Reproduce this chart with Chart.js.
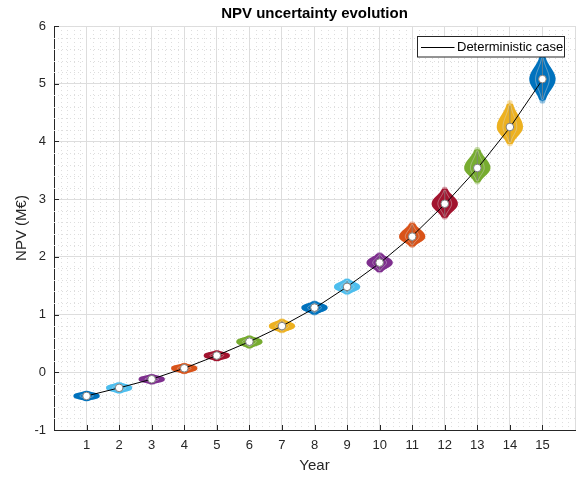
<!DOCTYPE html>
<html>
<head>
<meta charset="utf-8">
<script src="https://cdn.jsdelivr.net/npm/chart.js@4.4.1/dist/chart.umd.min.js"></script>
<style>
  html, body { margin: 0; padding: 0; background: #ffffff; }
  #wrap { width: 576px; height: 477px; }
</style>
</head>
<body>
<div id="wrap"><canvas id="npv" width="576" height="477"></canvas></div>
<script>
// Simulation years
const years = [1, 2, 3, 4, 5, 6, 7, 8, 9, 10, 11, 12, 13, 14, 15];

// Monte Carlo NPV distribution per year (M€): median and extent of the samples
const medianNpv = [-0.41, -0.27, -0.12, 0.07, 0.29, 0.53, 0.80, 1.12, 1.48, 1.90, 2.35, 2.92, 3.54, 4.25, 5.08];
const lowNpv    = [-0.47, -0.34, -0.18, 0.00, 0.22, 0.44, 0.71, 1.02, 1.37, 1.75, 2.19, 2.68, 3.29, 3.95, 4.69];
const highNpv   = [-0.35, -0.20, -0.06, 0.13, 0.35, 0.61, 0.90, 1.21, 1.60, 2.05, 2.58, 3.18, 3.87, 4.68, 5.49];

// Deterministic case NPV (M€)
const deterministicNpv = [-0.41, -0.27, -0.12, 0.07, 0.29, 0.53, 0.80, 1.11, 1.48, 1.89, 2.36, 2.91, 3.53, 4.24, 5.07];

// Axis ticks
const yTicks = [-1, 0, 1, 2, 3, 4, 5, 6];

// Colour cycle of the violins
const violinColors = ['#0072BD', '#4DBEEE', '#7E2F8E', '#D95319', '#A2142F', '#77AC30', '#EDB120'];

const FONT = '"Liberation Sans", Arial, Helvetica, sans-serif';
const AXIS_COLOR = '#262626';
const VIOLIN_WIDTH = 0.34;

function hexToRgba(hex, a) {
  const n = parseInt(hex.slice(1), 16);
  return `rgba(${(n >> 16) & 255},${(n >> 8) & 255},${n & 255},${a})`;
}

// Relative half-width of a violin at normalised distance s from the median
function profile(s) {
  return Math.exp(-2.6 * s * s);
}

// Outline of one violin, in data units, converted through the chart scales
function traceViolin(ctx, xs, ys, xc, med, lo, hi, rangeFactor, widthFactor) {
  const a = med - (med - lo) * rangeFactor;
  const b = med + (hi - med) * rangeFactor;
  const n = 48;
  const pts = [];
  for (let k = 0; k <= n; k++) {
    const v = a + (b - a) * k / n;
    const s = v >= med ? (v - med) / (hi - med) : (med - v) / (med - lo);
    pts.push([v, VIOLIN_WIDTH * widthFactor * profile(s)]);
  }
  ctx.beginPath();
  pts.forEach(([v, w], k) => {
    const px = xs.getPixelForValue(xc + w), py = ys.getPixelForValue(v);
    if (k === 0) ctx.moveTo(px, py); else ctx.lineTo(px, py);
  });
  for (let k = pts.length - 1; k >= 0; k--) {
    const [v, w] = pts[k];
    ctx.lineTo(xs.getPixelForValue(xc - w), ys.getPixelForValue(v));
  }
  ctx.closePath();
}

// Dotted minor grid every 0.2 units
const minorGrid = {
  id: 'minorGrid',
  beforeDatasetsDraw(chart) {
    const { ctx, chartArea: ca, scales: { x, y } } = chart;
    ctx.save();
    ctx.strokeStyle = '#dedede';
    ctx.lineWidth = 1;
    ctx.setLineDash([1, 3]);
    for (let k = 1; k < 80; k++) {
      if (k % 5 === 0) continue;
      const px = Math.round(x.getPixelForValue(k / 5)) + 0.5;
      ctx.beginPath(); ctx.moveTo(px, ca.top); ctx.lineTo(px, ca.bottom); ctx.stroke();
    }
    for (let k = -4; k < 30; k++) {
      if (k % 5 === 0) continue;
      const py = Math.round(y.getPixelForValue(k / 5)) + 0.5;
      ctx.beginPath(); ctx.moveTo(ca.left, py); ctx.lineTo(ca.right, py); ctx.stroke();
    }
    ctx.restore();
  }
};

// Violin bodies with whiskers
const violins = {
  id: 'violins',
  beforeDatasetsDraw(chart) {
    const { ctx, chartArea: ca, scales: { x, y } } = chart;
    ctx.save();
    ctx.beginPath(); ctx.rect(ca.left, ca.top, ca.right - ca.left, ca.bottom - ca.top); ctx.clip();
    ctx.lineJoin = 'round';
    years.forEach((yr, i) => {
      const c = violinColors[i % violinColors.length];
      const med = medianNpv[i], lo = lowNpv[i], hi = highNpv[i];
      // sparse tails
      traceViolin(ctx, x, y, yr, med, lo, hi, 1.0, 1.0);
      ctx.fillStyle = hexToRgba(c, 0.4);
      ctx.strokeStyle = hexToRgba(c, 0.4);
      ctx.lineWidth = 4;
      ctx.fill(); ctx.stroke();
      // dense body
      traceViolin(ctx, x, y, yr, med, lo, hi, 0.86, 1.0);
      ctx.fillStyle = c;
      ctx.strokeStyle = c;
      ctx.lineWidth = 4;
      ctx.fill(); ctx.stroke();
      // inner density outline
      traceViolin(ctx, x, y, yr, med, lo, hi, 0.9, 0.62);
      ctx.strokeStyle = 'rgba(215,215,215,0.45)';
      ctx.lineWidth = 1;
      ctx.stroke();
      // whisker
      const px = x.getPixelForValue(yr);
      ctx.beginPath();
      ctx.moveTo(px, y.getPixelForValue(med - (med - lo) * 0.85));
      ctx.lineTo(px, y.getPixelForValue(med + (hi - med) * 0.85));
      ctx.strokeStyle = 'rgba(128,128,128,0.75)';
      ctx.lineWidth = 1;
      ctx.stroke();
    });
    ctx.restore();
  }
};

// Inward tick marks, title and legend box
const decorations = {
  id: 'decorations',
  afterDraw(chart) {
    const { ctx, chartArea: ca, scales: { x, y } } = chart;
    ctx.save();
    ctx.strokeStyle = AXIS_COLOR;
    ctx.lineWidth = 1;
    years.forEach(v => {
      const px = Math.round(x.getPixelForValue(v)) + 0.5;
      ctx.beginPath(); ctx.moveTo(px, ca.bottom); ctx.lineTo(px, ca.bottom - 5); ctx.stroke();
    });
    yTicks.forEach(v => {
      const py = Math.round(y.getPixelForValue(v)) + 0.5;
      ctx.beginPath(); ctx.moveTo(ca.left, py); ctx.lineTo(ca.left + 5, py); ctx.stroke();
    });

    // title
    ctx.fillStyle = '#000000';
    ctx.font = 'bold 15px ' + FONT;
    ctx.textAlign = 'center';
    ctx.textBaseline = 'middle';
    ctx.fillText('NPV uncertainty evolution', (ca.left + ca.right) / 2, 14);

    // legend
    const lx = 417.5, ly = 36.5, lw = 147, lh = 20.5;
    ctx.fillStyle = '#ffffff';
    ctx.fillRect(lx, ly, lw, lh);
    ctx.strokeStyle = AXIS_COLOR;
    ctx.lineWidth = 1;
    ctx.strokeRect(lx, ly, lw, lh);
    ctx.strokeStyle = '#000000';
    ctx.beginPath(); ctx.moveTo(421, 47.5); ctx.lineTo(454.5, 47.5); ctx.stroke();
    ctx.fillStyle = '#000000';
    ctx.font = '13px ' + FONT;
    ctx.textAlign = 'left';
    ctx.fillText('Deterministic case', 457, 47.5);
    ctx.restore();
  }
};

new Chart(document.getElementById('npv'), {
  type: 'line',
  data: {
    datasets: [
      {
        label: 'Deterministic case',
        data: years.map((yr, i) => ({ x: yr, y: deterministicNpv[i] })),
        borderColor: '#000000',
        borderWidth: 1,
        pointRadius: 0,
        tension: 0,
        fill: false,
        order: 2
      },
      {
        label: 'Median',
        data: years.map((yr, i) => ({ x: yr, y: medianNpv[i] })),
        showLine: false,
        pointRadius: 3.8,
        pointBackgroundColor: '#ffffff',
        pointBorderColor: '#808080',
        pointBorderWidth: 1,
        order: 1
      }
    ]
  },
  options: {
    responsive: false,
    animation: false,
    devicePixelRatio: 1,
    layout: { autoPadding: false, padding: { top: 26, right: 1, left: 0, bottom: 0 } },
    plugins: { legend: { display: false }, tooltip: { enabled: false }, title: { display: false } },
    scales: {
      x: {
        type: 'linear',
        min: 0,
        max: 16,
        afterFit: s => { s.height = 47; s.paddingLeft = 0; s.paddingRight = 0; },
        ticks: {
          stepSize: 1,
          autoSkip: false,
          padding: 8,
          color: AXIS_COLOR,
          font: { family: FONT, size: 13 },
          callback: v => (years.includes(v) ? String(v) : '')
        },
        grid: { color: '#dddddd', lineWidth: 1, drawTicks: false },
        border: { display: true, color: AXIS_COLOR, width: 1 },
        title: {
          display: true,
          text: 'Year',
          color: AXIS_COLOR,
          font: { family: FONT, size: 15 },
          padding: { top: 0, bottom: 2 }
        }
      },
      y: {
        type: 'linear',
        min: -1,
        max: 6,
        afterFit: s => { s.width = 54; s.paddingTop = 0; s.paddingBottom = 0; },
        afterBuildTicks: s => { s.ticks = yTicks.map(v => ({ value: v })); },
        ticks: {
          padding: 8,
          color: AXIS_COLOR,
          font: { family: FONT, size: 13 }
        },
        grid: { color: '#dddddd', lineWidth: 1, drawTicks: false },
        border: { display: true, color: AXIS_COLOR, width: 1 },
        title: {
          display: true,
          text: 'NPV (M€)',
          color: AXIS_COLOR,
          font: { family: FONT, size: 15 },
          padding: { top: 13, bottom: 0 }
        }
      }
    }
  },
  plugins: [minorGrid, violins, decorations]
});
</script>
</body>
</html>
